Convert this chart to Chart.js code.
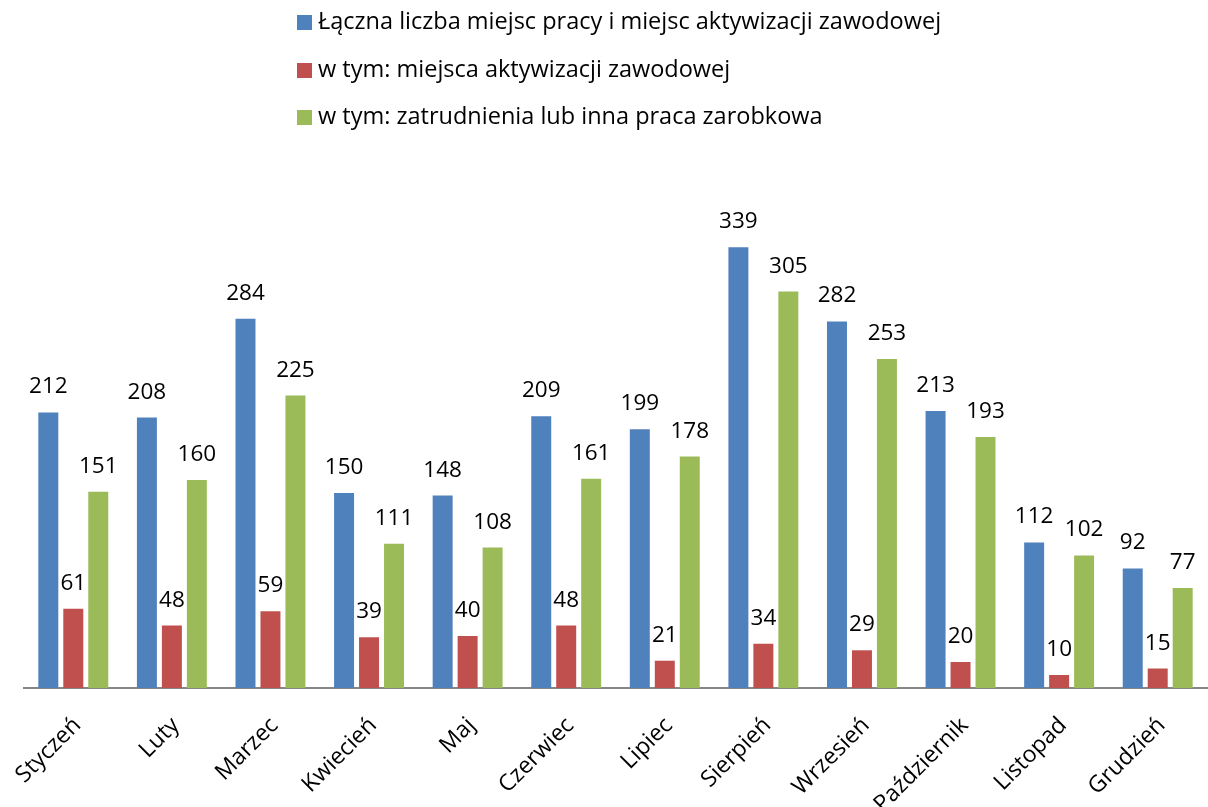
<!DOCTYPE html>
<html>
<head>
<meta charset="utf-8">
<script src="https://cdn.jsdelivr.net/npm/chart.js@4/dist/chart.umd.min.js"></script>
<style>
  html, body { margin: 0; padding: 0; background: #fff; }
  #wrap { position: relative; width: 1208px; height: 807px; }
  #legend { position: absolute; left: 297px; top: 4px; font-family: "Open Sans", sans-serif; font-size: 23.5px; line-height: 32px; color: #000; }
  #legend .item { height: 47.5px; display: flex; align-items: flex-start; white-space: nowrap; }
  #legend .sw { width: 15px; height: 15px; margin-top: 11px; margin-right: 6px; flex: none; }
</style>
</head>
<body>
<div id="wrap">
  <canvas id="c" width="1208" height="807"></canvas>
  <div id="legend"></div>
</div>
<script>
const categories = ["Styczeń","Luty","Marzec","Kwiecień","Maj","Czerwiec","Lipiec","Sierpień","Wrzesień","Październik","Listopad","Grudzień"];
const seriesNames = [
  "Łączna liczba miejsc pracy i miejsc aktywizacji zawodowej",
  "w tym: miejsca aktywizacji zawodowej",
  "w tym: zatrudnienia lub inna praca zarobkowa"
];
const totalJobs = [212,208,284,150,148,209,199,339,282,213,112,92];
const activation = [61,48,59,39,40,48,21,34,29,20,10,15];
const employment = [151,160,225,111,108,161,178,305,253,193,102,77];
const colors = ["#4F81BD","#C0504D","#9BBB59"];

const valueLabels = {
  id: 'valueLabels',
  afterDatasetsDraw(chart) {
    const ctx = chart.ctx;
    ctx.save();
    ctx.font = '22.5px "Open Sans", sans-serif';
    ctx.fillStyle = '#000';
    ctx.textAlign = 'center';
    ctx.textBaseline = 'alphabetic';
    chart.data.datasets.forEach((ds, di) => {
      const meta = chart.getDatasetMeta(di);
      meta.data.forEach((bar, i) => {
        ctx.fillText(String(ds.data[i]), bar.x, bar.y - 19);
      });
    });
    ctx.restore();
  }
};

const datasets = [totalJobs, activation, employment].map((d, i) => ({
  label: seriesNames[i],
  data: d,
  backgroundColor: colors[i],
  borderWidth: 0,
  categoryPercentage: 0.76,
  barPercentage: 0.8
}));

const chart = new Chart(document.getElementById('c'), {
  type: 'bar',
  data: { labels: categories, datasets },
  options: {
    responsive: false,
    animation: false,
    events: [],
    layout: { padding: { left: 24, right: 1, top: 168, bottom: 0 } },
    plugins: { legend: { display: false }, tooltip: { enabled: false } },
    scales: {
      x: {
        grid: { display: false, drawTicks: false },
        border: { display: true, color: '#868686', width: 2 },
        ticks: {
          color: '#000',
          font: { family: '"Open Sans", sans-serif', size: 23 },
          maxRotation: 45, minRotation: 45,
          padding: 24,
          labelOffset: 4,
          autoSkip: false
        },
        afterFit(s) { s.height = 119; s.paddingLeft = 0; s.paddingRight = 0; s.paddingTop = 0; s.paddingBottom = 0; }
      },
      y: {
        display: false,
        min: 0, max: 400
      }
    }
  },
  plugins: [valueLabels]
});

const leg = document.getElementById('legend');
chart.data.datasets.forEach(ds => {
  const it = document.createElement('div');
  it.className = 'item';
  const sw = document.createElement('span');
  sw.className = 'sw';
  sw.style.background = ds.backgroundColor;
  const tx = document.createElement('span');
  tx.textContent = ds.label;
  it.appendChild(sw); it.appendChild(tx);
  leg.appendChild(it);
});
</script>
</body>
</html>
